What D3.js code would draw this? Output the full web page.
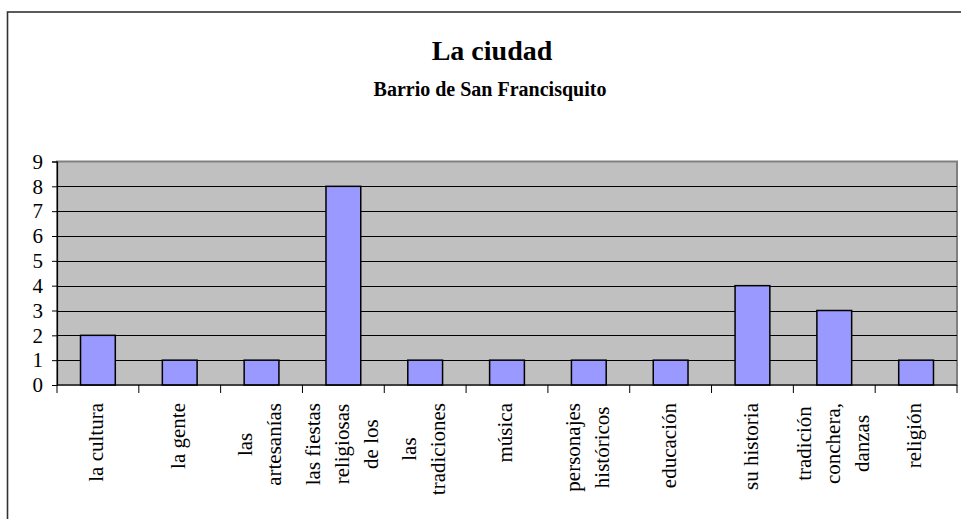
<!DOCTYPE html>
<html lang="es">
<head>
<meta charset="utf-8">
<script src="https://d3js.org/d3.v7.min.js"></script>
<style>
  body { margin: 0; background: #fff; }
  svg text { font-family: "Liberation Serif", "DejaVu Serif", serif !important; fill: #000; }
</style>
</head>
<body>
<div id="grafica"></div>
<script>
// datos
const categorias = ["la cultura", "la gente", "las\nartesanías", "las fiestas\nreligiosas\nde los",
  "las\ntradiciones", "música", "personajes\nhistóricos", "educación", "su historia",
  "tradición\nconchera,\ndanzas", "religión"];
const valores = [2, 1, 1, 8, 1, 1, 1, 1, 4, 3, 1];
const marcasY = [0, 1, 2, 3, 4, 5, 6, 7, 8, 9];
const titulo = "La ciudad";
const subtitulo = "Barrio de San Francisquito";

const ancho = 961, alto = 519;
const izq = 57, der = 957, arriba = 161.5, abajo = 385;

const svg = d3.select("#grafica").append("svg")
  .attr("width", ancho).attr("height", alto);

// marco del grafico
svg.append("rect")
  .attr("x", 7.5).attr("y", 12).attr("width", 1000).attr("height", 600)
  .attr("fill", "none").attr("stroke", "#333").attr("stroke-width", 1.6);

svg.append("text").attr("x", 492).attr("y", 60)
  .attr("text-anchor", "middle").style("font-size", "28px").style("font-weight", "bold")
  .text(titulo);
svg.append("text").attr("x", 490).attr("y", 96)
  .attr("text-anchor", "middle").style("font-size", "20px").style("font-weight", "bold")
  .text(subtitulo);

const x = d3.scaleBand().domain(categorias).range([izq, der])
  .paddingInner(0.575).paddingOuter(0.2875);
const limites = d3.scaleLinear().domain([0, categorias.length]).range([izq, der]);
const y = d3.scaleLinear().domain([0, 9]).range([abajo, arriba]);

// area de trazado
svg.append("rect")
  .attr("x", izq).attr("y", arriba).attr("width", der - izq).attr("height", abajo - arriba)
  .attr("fill", "#C0C0C0").attr("stroke", "#808080").attr("stroke-width", 2);

// lineas de division
svg.append("g").selectAll("line").data(marcasY.filter(d => d > 0 && d < 9)).join("line")
  .attr("x1", izq).attr("x2", der)
  .attr("y1", d => Math.round(y(d)) + 0.5).attr("y2", d => Math.round(y(d)) + 0.5)
  .attr("stroke", "#000").attr("stroke-width", 1);

// barras
svg.append("g").selectAll("rect").data(valores).join("rect")
  .attr("x", (d, i) => x(categorias[i]))
  .attr("y", d => y(d))
  .attr("width", x.bandwidth())
  .attr("height", d => y(0) - y(d))
  .attr("fill", "#9999FF").attr("stroke", "#000").attr("stroke-width", 1.5);

// eje Y
const ejeY = svg.append("g").attr("transform", `translate(${izq},0)`)
  .call(d3.axisLeft(y).tickValues(marcasY).tickFormat(d3.format("d"))
    .tickSize(5).tickPadding(9));
ejeY.select(".domain").attr("stroke", "#000").attr("stroke-width", 1.2);
ejeY.selectAll(".tick line").attr("stroke", "#000");
ejeY.selectAll(".tick text").style("font-size", "21px").attr("fill", "#000");

// eje X
svg.append("line").attr("x1", izq).attr("x2", der).attr("y1", abajo).attr("y2", abajo)
  .attr("stroke", "#000").attr("stroke-width", 1.2);
svg.append("g").selectAll("line").data(d3.range(categorias.length + 1)).join("line")
  .attr("x1", d => limites(d)).attr("x2", d => limites(d))
  .attr("y1", abajo).attr("y2", abajo + 8)
  .attr("stroke", "#000").attr("stroke-width", 1);

// etiquetas giradas, varias lineas centradas entre si
const interlinea = 29;
const etiquetas = svg.append("g").selectAll("g").data(categorias).join("g");
etiquetas.each(function(cat) {
  const g = d3.select(this);
  const lineas = cat.split("\n");
  const n = lineas.length;
  const textos = g.selectAll("text").data(lineas).join("text")
    .style("font-size", "21px")
    .attr("text-anchor", "middle")
    .attr("y", (d, i) => (i - (n - 1) / 2) * interlinea)
    .attr("dy", "0.35em")
    .text(d => d);
  let maxAncho = 0;
  textos.each(function() { maxAncho = Math.max(maxAncho, this.getComputedTextLength()); });
  textos.attr("x", -maxAncho / 2);
  const cx = x(cat) + x.bandwidth() / 2 - 2;
  g.attr("transform", `translate(${cx},403) rotate(-90)`);
});
</script>
</body>
</html>
